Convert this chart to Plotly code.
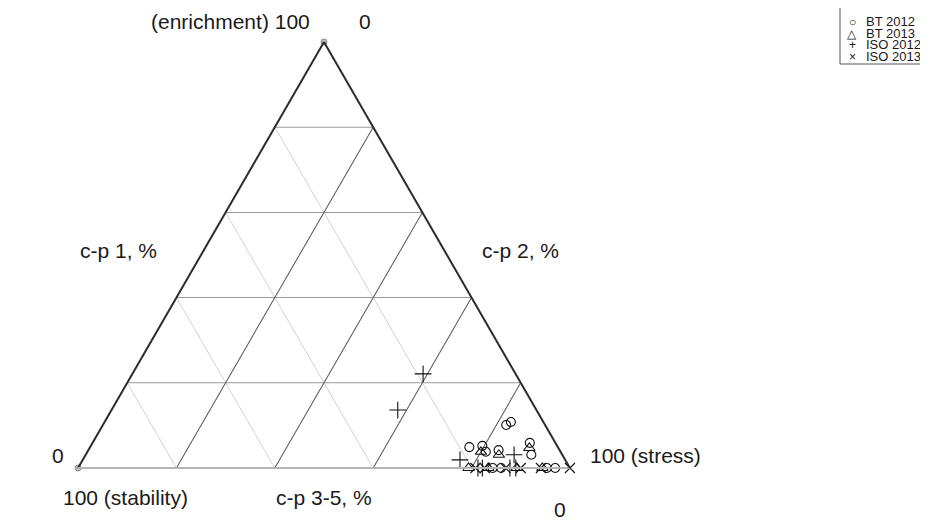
import plotly.graph_objects as go

# ternary components in percent: c-p 1 (top), c-p 3-5 (bottom-left), c-p 2 (bottom-right)
bt2012_cp1 = [10.1, 10.8, 4.9, 5.2, 3.8, 4.2, 5.9, 3.1, 0.0, 0.0, 0.0, 0.0]
bt2012_cp35 = [7.9, 6.6, 18.0, 15.2, 15.2, 12.4, 5.2, 6.3, 4.7, 3.0, 15.7, 14.0]
bt2012_cp2 = [82.0, 82.6, 77.1, 79.6, 81.0, 83.4, 88.9, 90.6, 95.3, 97.0, 84.3, 86.0]

bt2013_cp1 = [0.0, 3.8, 3.1, 4.7, 0.0, 0.0, 0.0]
bt2013_cp35 = [20.6, 16.2, 12.9, 5.9, 10.8, 16.6, 5.6]
bt2013_cp2 = [79.4, 80.0, 84.0, 89.4, 89.2, 83.4, 94.4]

iso2012_cp1 = [22.1, 13.6, 1.9, 3.1, 0.0, 0.0, 0.0, 0.0]
iso2012_cp35 = [18.8, 28.2, 21.4, 9.8, 18.7, 17.8, 12.2, 11.0]
iso2012_cp2 = [59.1, 58.2, 76.7, 87.1, 81.3, 82.2, 87.8, 89.0]

iso2013_cp1 = [0.0, 0.0, 0.0, 0.0, 0.0, 0.0]
iso2013_cp35 = [0.0, 5.9, 19.2, 17.3, 13.1, 10.0]
iso2013_cp2 = [100.0, 94.1, 80.8, 82.7, 86.9, 90.0]

# small grey vertex markers
corner_cp1 = [100.0, 0.0]
corner_cp35 = [0.0, 100.0]
corner_cp2 = [0.0, 0.0]

series = [
    ("BT 2012", bt2012_cp1, bt2012_cp35, bt2012_cp2, "circle-open", 9),
    ("BT 2013", bt2013_cp1, bt2013_cp35, bt2013_cp2, "triangle-up-open", 10),
    ("ISO 2012", iso2012_cp1, iso2012_cp35, iso2012_cp2, "cross-thin-open", 12),
    ("ISO 2013", iso2013_cp1, iso2013_cp35, iso2013_cp2, "x-thin-open", 10),
]
legend_symbols = ["\u25cb", "\u25b3", "+", "\u00d7"]

FONT = "Liberation Sans, Arial, Helvetica, sans-serif"
W, H = 928, 521
OFF = 8  # page body margin


def px(x):
    return (x - OFF) / W


def py(y):
    return 1 - (y - OFF) / H


fig = go.Figure()
fig.add_trace(
    go.Scatterternary(
        a=corner_cp1, b=corner_cp35, c=corner_cp2,
        mode="markers",
        marker={"symbol": "circle", "size": 6, "color": "#bdbdbd",
                "line": {"width": 1, "color": "#8a8a8a"}},
        hoverinfo="skip", showlegend=False, cliponaxis=False,
    )
)
for name, a, b, c, symbol, size in series:
    fig.add_trace(
        go.Scatterternary(
            a=a, b=b, c=c, name=name,
            mode="markers",
            marker={"symbol": symbol, "size": size, "color": "#111111",
                    "line": {"width": 1.1, "color": "#111111"}},
            cliponaxis=False,
            showlegend=False,
        )
    )


def axis(linecolor, gridcolor):
    return {
        "min": 0,
        "tickmode": "linear", "tick0": 0, "dtick": 20,
        "showticklabels": False, "ticks": "",
        "showgrid": True, "gridcolor": gridcolor, "gridwidth": 1,
        "showline": True, "linecolor": linecolor, "linewidth": 2,
        "title": {"text": ""},
    }


fig.update_layout(
    width=W, height=H,
    paper_bgcolor="white",
    margin={"l": 0, "r": 0, "t": 0, "b": 0},
    showlegend=False,
    font={"family": FONT, "color": "#1a1a1a"},
    ternary={
        "sum": 100,
        "bgcolor": "white",
        "domain": {"x": [0.0405, 0.6405], "y": [0.1171, 0.9347]},
        "aaxis": axis("#2b2b2b", "#9a9a9a"),
        "baxis": axis("#b4b4b4", "#d2d2d2"),
        "caxis": axis("#2b2b2b", "#555555"),
    },
)


def label(text, x, y, xanchor="center", size=21):
    fig.add_annotation(
        text=text, x=px(x), y=py(y), xref="paper", yref="paper",
        xanchor=xanchor, yanchor="middle", showarrow=False,
        font={"size": size, "family": FONT, "color": "#1a1a1a"},
    )


label("(enrichment) 100", 312, 22, "right")
label("0", 365, 22)
label("c-p 1, %", 118, 250)
label("c-p 2, %", 520, 250)
label("0", 58, 455)
label("100 (stability)", 126, 497)
label("c-p 3-5, %", 324, 497)
label("100 (stress)", 588, 455, "left")
label("0", 560, 509)

# legend box
fig.add_shape(type="rect", xref="paper", yref="paper",
              x0=px(840), x1=px(945), y0=py(64), y1=py(5),
              line={"color": "#555555", "width": 1}, fillcolor="white")
for i, (name, *_rest) in enumerate(series):
    row_y = 22 + 11.5 * i
    label(legend_symbols[i], 852, row_y, "center", size=12)
    label(name, 864, row_y, "left", size=13)

fig.write_html("out.html")
